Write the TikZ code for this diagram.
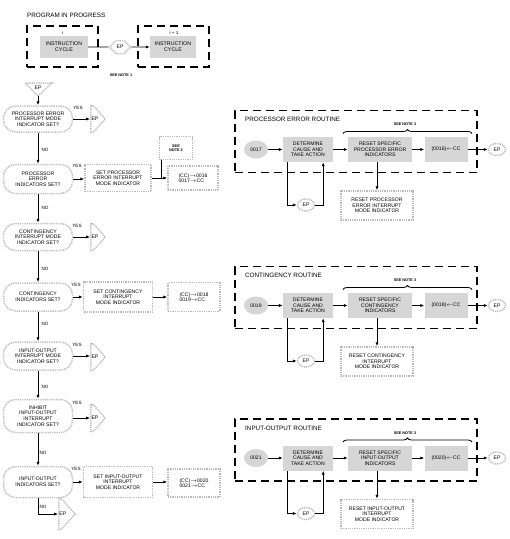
\documentclass[tikz,border=0pt]{standalone}
\usepackage{fontspec}
\setmainfont{Liberation Sans}
\usetikzlibrary{arrows.meta,shapes.geometric,shapes.symbols,shapes.misc,decorations.pathreplacing,calc}

\tikzset{
 stip/.style={draw=gray!55, line width=1.5pt, dash pattern=on 0.9pt off 0.9pt},
 txt/.style={font=\fontsize{5.1}{5.6}\selectfont, align=center, inner sep=0pt},
 decision/.style={stip, txt, rounded corners=12pt, minimum width=69pt, fill=white},
 setbox/.style={stip, txt, minimum width=68pt, minimum height=28pt},
 shadebox/.style={fill=gray!32, txt, minimum height=25pt},
 dashbox/.style={draw, line width=1.1pt, dash pattern=on 8pt off 5pt},
 epright/.style={stip, txt, shape=signal, signal to=east, signal pointer angle=96, minimum width=0pt, minimum height=27pt, inner xsep=0.6pt},
 epcirc/.style={stip, txt, ellipse, minimum width=17pt, minimum height=12pt},
 numcirc/.style={fill=gray!32, txt, ellipse, minimum width=24pt, minimum height=18pt},
 conn/.style={line width=0.9pt, -{Latex[length=4pt,width=3.2pt]}},
 plain/.style={line width=0.9pt},
 lbl/.style={font=\fontsize{4.6}{5}\selectfont, inner sep=0pt},
 notetxt/.style={font=\bfseries\fontsize{3.8}{4.4}\selectfont, inner sep=0pt, align=center},
 ttl/.style={font=\fontsize{6.3}{7}\selectfont, inner sep=0pt, anchor=west},
}
\newcommand\eptxt{\makebox[1pt][l]{EP}}

\newcommand\myroutine[7]{%
 \node[dashbox, minimum width=242pt, minimum height=62pt] (box#2) at (356,{#1-8}) {};
 \node[ttl] (t#2) at (245,{#1-30}) {#3};
 \coordinate (bl#2) at (343,{#1-16});
 \coordinate (br#2) at (472,{#1-16});
 \draw[decorate, decoration={brace, amplitude=4pt}, line width=0.8pt] (bl#2) -- (br#2);
 \node[notetxt] (sn#2) at (405,{#1-25}) {SEE NOTE 3};
 \node[numcirc] (n#2) at (256,#1) {#4};
 \node[shadebox, minimum width=50pt] (det#2) at (308,#1) {DETERMINE\\CAUSE AND\\TAKE ACTION};
 \node[shadebox, minimum width=64pt] (res#2) at (380,#1) {#5};
 \node[shadebox, minimum width=43pt] (cc#2) at (446,#1) {#6};
 \node[epcirc] (ep#2) at (497,#1) {EP};
 \node[epcirc] (lp#2) at (306,{#1+55.5}) {EP};
 \node[setbox, minimum width=72pt, minimum height=29pt] (bot#2) at (377,{#1+56}) {#7};
 \draw[conn] (n#2) -- (det#2);
 \draw[conn] (det#2) -- (res#2);
 \draw[conn] (res#2) -- (cc#2);
 \draw[conn] (cc#2) -- (ep#2);
 \draw[conn] ($(det#2.south west)+(5,0)$) |- (lp#2.west);
 \draw[conn] (lp#2.east) -| ($(det#2.south east)+(-10,0)$);
 \draw[conn] (bot#2.north |- res#2.south) -- (bot#2.north);
}

\begin{document}
\begin{tikzpicture}[x=1pt,y=-1pt]
\useasboundingbox (0,0) rectangle (510,539);

% ---- program in progress
\node[ttl] (pip) at (27,15) {PROGRAM IN PROGRESS};
\node[dashbox, minimum width=71pt, minimum height=41pt] (bi) at (62.5,46.5) {};
\node[dashbox, minimum width=71pt, minimum height=41pt] (bii) at (173.5,46.5) {};
\node[lbl] (li) at (63,33) {i};
\node[lbl] (lii) at (174,33) {i + 1};
\node[shadebox, minimum width=48pt, minimum height=22pt, font=\fontsize{5.3}{5.9}\selectfont] (ic1) at (64,47) {INSTRUCTION\\CYCLE};
\node[shadebox, minimum width=46pt, minimum height=22pt, font=\fontsize{5.3}{5.9}\selectfont] (ic2) at (173,47) {INSTRUCTION\\CYCLE};
\node[stip, txt, shape=signal, signal to=east and west, minimum width=21pt, minimum height=13pt] (ep0) at (120,47) {EP};
\draw[plain] (ic1) -- (ep0);
\draw[conn] (ep0) -- (ic2);
\node[notetxt] (sn1) at (121,75) {SEE NOTE 1};

% ---- top EP triangle
\coordinate (tip) at (38,96);
\coordinate (tl) at (25,83);
\coordinate (tr) at (52,83);
\draw[stip] (tl) -- (tr) -- (tip) -- cycle;
\node[txt] (ept) at (38,88) {EP};

% ---- decisions
\node[decision, minimum height=26pt] (d1) at (38,119) {PROCESSOR ERROR\\INTERRUPT MODE\\INDICATOR SET?};
\node[epright] (e1) at (92,119) {\eptxt};
\node[lbl] (y1) at (78,108) {YES};

\node[decision, minimum height=29pt] (d2) at (38,179) {PROCESSOR\\ERROR\\INDICATORS SET?};
\node[lbl] (y2) at (77,166) {YES};
\node[lbl] (no1) at (45,150) {NO};
\node[setbox, minimum width=66pt, minimum height=27pt] (s1) at (118,178) {SET PROCESSOR\\ERROR INTERRUPT\\MODE INDICATOR};
\node[setbox, minimum width=50pt, minimum height=24pt, align=left] (c1) at (193,178) {(CC)$\rightarrow$0016\\0017$\rightarrow$CC};
\node[setbox, minimum width=33pt, minimum height=23pt, notetxt] (n2) at (176,148) {SEE\\NOTE 2};
\coordinate (j1) at (161,178);

\node[lbl] (no2) at (45,208) {NO};
\node[decision, minimum height=27pt] (d3) at (38,237) {CONTINGENCY\\INTERRUPT MODE\\INDICATOR SET?};
\node[epright] (e3) at (92,237) {\eptxt};
\node[lbl] (y3) at (77,226) {YES};

\node[lbl] (no3) at (45,269) {NO};
\node[decision, minimum height=28pt] (d4) at (38,297) {CONTINGENCY\\INDICATORS SET?};
\node[lbl] (y4) at (76,285) {YES};
\node[setbox, minimum width=69pt, minimum height=30pt] (s2) at (118,297) {SET CONTINGENCY\\INTERRUPT\\MODE INDICATOR};
\node[setbox, minimum width=52pt, minimum height=29pt, align=left] (c2) at (194,297) {(CC)$\rightarrow$0018\\0019$\rightarrow$CC};

\node[lbl] (no4) at (45,324) {NO};
\node[decision, minimum height=28pt] (d5) at (38,356) {INPUT-OUTPUT\\INTERRUPT MODE\\INDICATOR SET?};
\node[epright] (e5) at (92,357) {\eptxt};
\node[lbl] (y5) at (77,345) {YES};

\node[lbl] (no5) at (45,387) {NO};
\node[decision, minimum height=33pt] (d6) at (38,416) {INHIBIT\\INPUT-OUTPUT\\INTERRUPT\\INDICATOR SET?};
\node[epright] (e6) at (92,418) {\eptxt};
\node[lbl] (y6) at (77,403) {YES};

\node[lbl] (no6) at (43,453) {NO};
\node[decision, minimum height=31pt] (d7) at (38,482) {INPUT-OUTPUT\\INDICATORS SET?};
\node[lbl] (y7) at (76,469) {YES};
\node[setbox, minimum width=69pt, minimum height=31pt] (s3) at (118,482) {SET INPUT-OUTPUT\\INTERRUPT\\MODE INDICATOR};
\node[setbox, minimum width=52pt, minimum height=28pt, align=left] (c3) at (194,483) {(CC)$\rightarrow$0020\\0021$\rightarrow$CC};
\node[lbl] (no7) at (43,507) {NO};
\node[epright, minimum height=31pt] (e7) at (60,514) {\eptxt};
\coordinate (k7) at (38,514);

% ---- connectors left column
\draw[conn] (tip) -- (d1);
\draw[conn] (d1.east) -- (d1.east -| e1.west);
\draw[conn] (d1) -- (d2);
\draw[conn] (d2.east) -- (d2.east -| s1.west);
\draw[conn] (s1) -- (c1);
\draw[plain] (n2.south -| j1) -- (j1);
\draw[conn] (d2) -- (d3);
\draw[conn] (d3.east) -- (d3.east -| e3.west);
\draw[conn] (d3) -- (d4);
\draw[conn] (d4) -- (s2);
\draw[conn] (s2) -- (c2);
\draw[conn] (d4) -- (d5);
\draw[conn] (d5.east) -- (d5.east -| e5.west);
\draw[conn] (d5) -- (d6);
\draw[conn] (d6.east |- e6.west) -- (e6.west);
\draw[conn] (d6) -- (d7);
\draw[conn] (d7) -- (s3);
\draw[conn] (s3.east) -- (s3.east -| c3.west);
\draw[plain] (d7.south) -- (k7);
\draw[conn] (k7) -- (e7.west);

% ---- routines
\myroutine{149.5}{a}{PROCESSOR ERROR ROUTINE}{0017}{RESET SPECIFIC\\PROCESSOR ERROR\\INDICATORS}{(0016)$\leftarrow$CC}{RESET PROCESSOR\\ERROR INTERRUPT\\MODE INDICATOR}
\myroutine{305.5}{b}{CONTINGENCY ROUTINE}{0019}{RESET SPECIFIC\\CONTINGENCY\\INDICATORS}{(0018)$\leftarrow$CC}{RESET CONTINGENCY\\INTERRUPT\\MODE INDICATOR}
\myroutine{458}{c}{INPUT-OUTPUT ROUTINE}{0021}{RESET SPECIFIC\\INPUT-OUTPUT\\INDICATORS}{(0020)$\leftarrow$CC}{RESET INPUT-OUTPUT\\INTERRUPT\\MODE INDICATOR}
\end{tikzpicture}
\end{document}
